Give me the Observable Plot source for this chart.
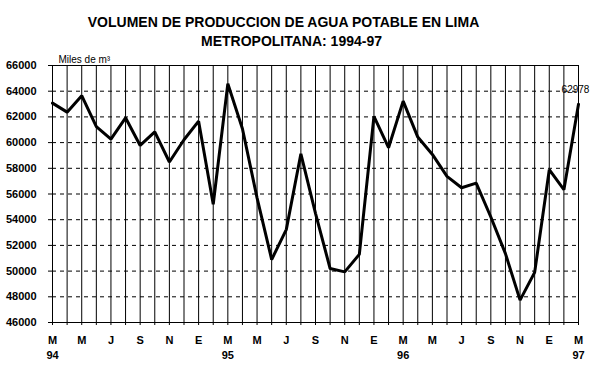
<!DOCTYPE html>
<html>
<head>
<meta charset="utf-8">
<script src="https://cdn.jsdelivr.net/npm/d3@7"></script>
<script src="https://cdn.jsdelivr.net/npm/@observablehq/plot@0.6"></script>
<style>
  html, body { margin: 0; padding: 0; background: white; }
  #wrap { width: 604px; height: 371px; position: relative; overflow: hidden; font-family: "Liberation Sans", Arial, sans-serif; }
  #title { height: 50px; position: relative; }
  #title div { position: absolute; font-weight: bold; font-size: 14px; line-height: 16px; text-align: center; white-space: nowrap; }
  #t1 { top: 14px; left: 0; width: 567px; }
  #t2 { top: 33px; left: 0; width: 583px; }
  svg { display: block; }
</style>
</head>
<body>
<div id="wrap">
  <div id="title">
    <div id="t1">VOLUMEN DE PRODUCCION DE AGUA POTABLE EN LIMA</div>
    <div id="t2">METROPOLITANA: 1994-97</div>
  </div>
  <div id="chart"></div>
</div>
<script>
// Monthly volume, March 1994 – March 1997 (miles de m³)
const values = [
  63070, 62370, 63650, 61250, 60270, 61930, 59780, 60840, 58490, 60220,
  61670, 55200, 64580, 61080, 55700, 50900, 53230, 59130, 54500, 50200,
  49940, 51300, 62040, 59600, 63230, 60430, 59080, 57370, 56490, 56850,
  54210, 51360, 47740, 49900, 57890, 56340, 62978
];
// Tick labels every two months (Spanish month initials) and year labels at each March
const tickLabels = ["M","M","J","S","N","E","M","M","J","S","N","E","M","M","J","S","N","E","M"];
const yearLabels = ["94","95","96","97"];
const yTicks = [46000, 48000, 50000, 52000, 54000, 56000, 58000, 60000, 62000, 64000, 66000];
const dashedLevels = [48000, 50000, 52000, 54000, 56000, 58000, 60000, 62000, 64000];
const unitLabel = "Miles de m³";

const data = values.map((v, i) => ({i, v}));
const monthIdx = d3.range(values.length);
const yearIdx = yearLabels.map((_, k) => k * 12);
const last = data[data.length - 1];

const chart = Plot.plot({
  width: 604,
  height: 321,
  marginTop: 15,
  marginBottom: 49,
  marginLeft: 52,
  marginRight: 26,
  style: {fontFamily: "Liberation Sans, Arial, sans-serif", background: "white", color: "black"},
  x: {type: "linear", domain: [0, values.length - 1]},
  y: {domain: [46000, 66000]},
  marks: [
    Plot.ruleY(dashedLevels, {stroke: "black", strokeWidth: 1, strokeDasharray: "4,4"}),
    Plot.ruleX(monthIdx, {stroke: "black", strokeWidth: 1}),
    Plot.ruleY([46000, 66000], {stroke: "black", strokeWidth: 1}),
    Plot.axisY({
      ticks: yTicks, tickSize: 4, tickPadding: 12,
      tickFormat: d => String(d),
      fontWeight: "bold", fontSize: 11, label: null, stroke: "black"
    }),
    Plot.axisX({
      ticks: monthIdx, tickSize: 3, tickPadding: 11,
      tickFormat: i => (i % 2 === 0 ? tickLabels[i / 2] : ""),
      fontWeight: "bold", fontSize: 11, label: null, stroke: "black"
    }),
    Plot.axisX({
      ticks: yearIdx, tickSize: 0, tickPadding: 29,
      tickFormat: i => yearLabels[i / 12],
      fontWeight: "bold", fontSize: 11, label: null
    }),
    Plot.line(data, {x: "i", y: "v", stroke: "black", strokeWidth: 3, strokeLinejoin: "miter"}),
    Plot.text([last], {x: "i", y: "v", text: d => String(d.v), dx: -3, dy: -11, lineAnchor: "bottom", fontSize: 10, fill: "black"}),
    Plot.text([unitLabel], {frameAnchor: "top-left", textAnchor: "start", lineAnchor: "bottom", dx: 6, dy: -3, fontSize: 10, fill: "black"})
  ]
});
document.getElementById("chart").appendChild(chart);
</script>
</body>
</html>
